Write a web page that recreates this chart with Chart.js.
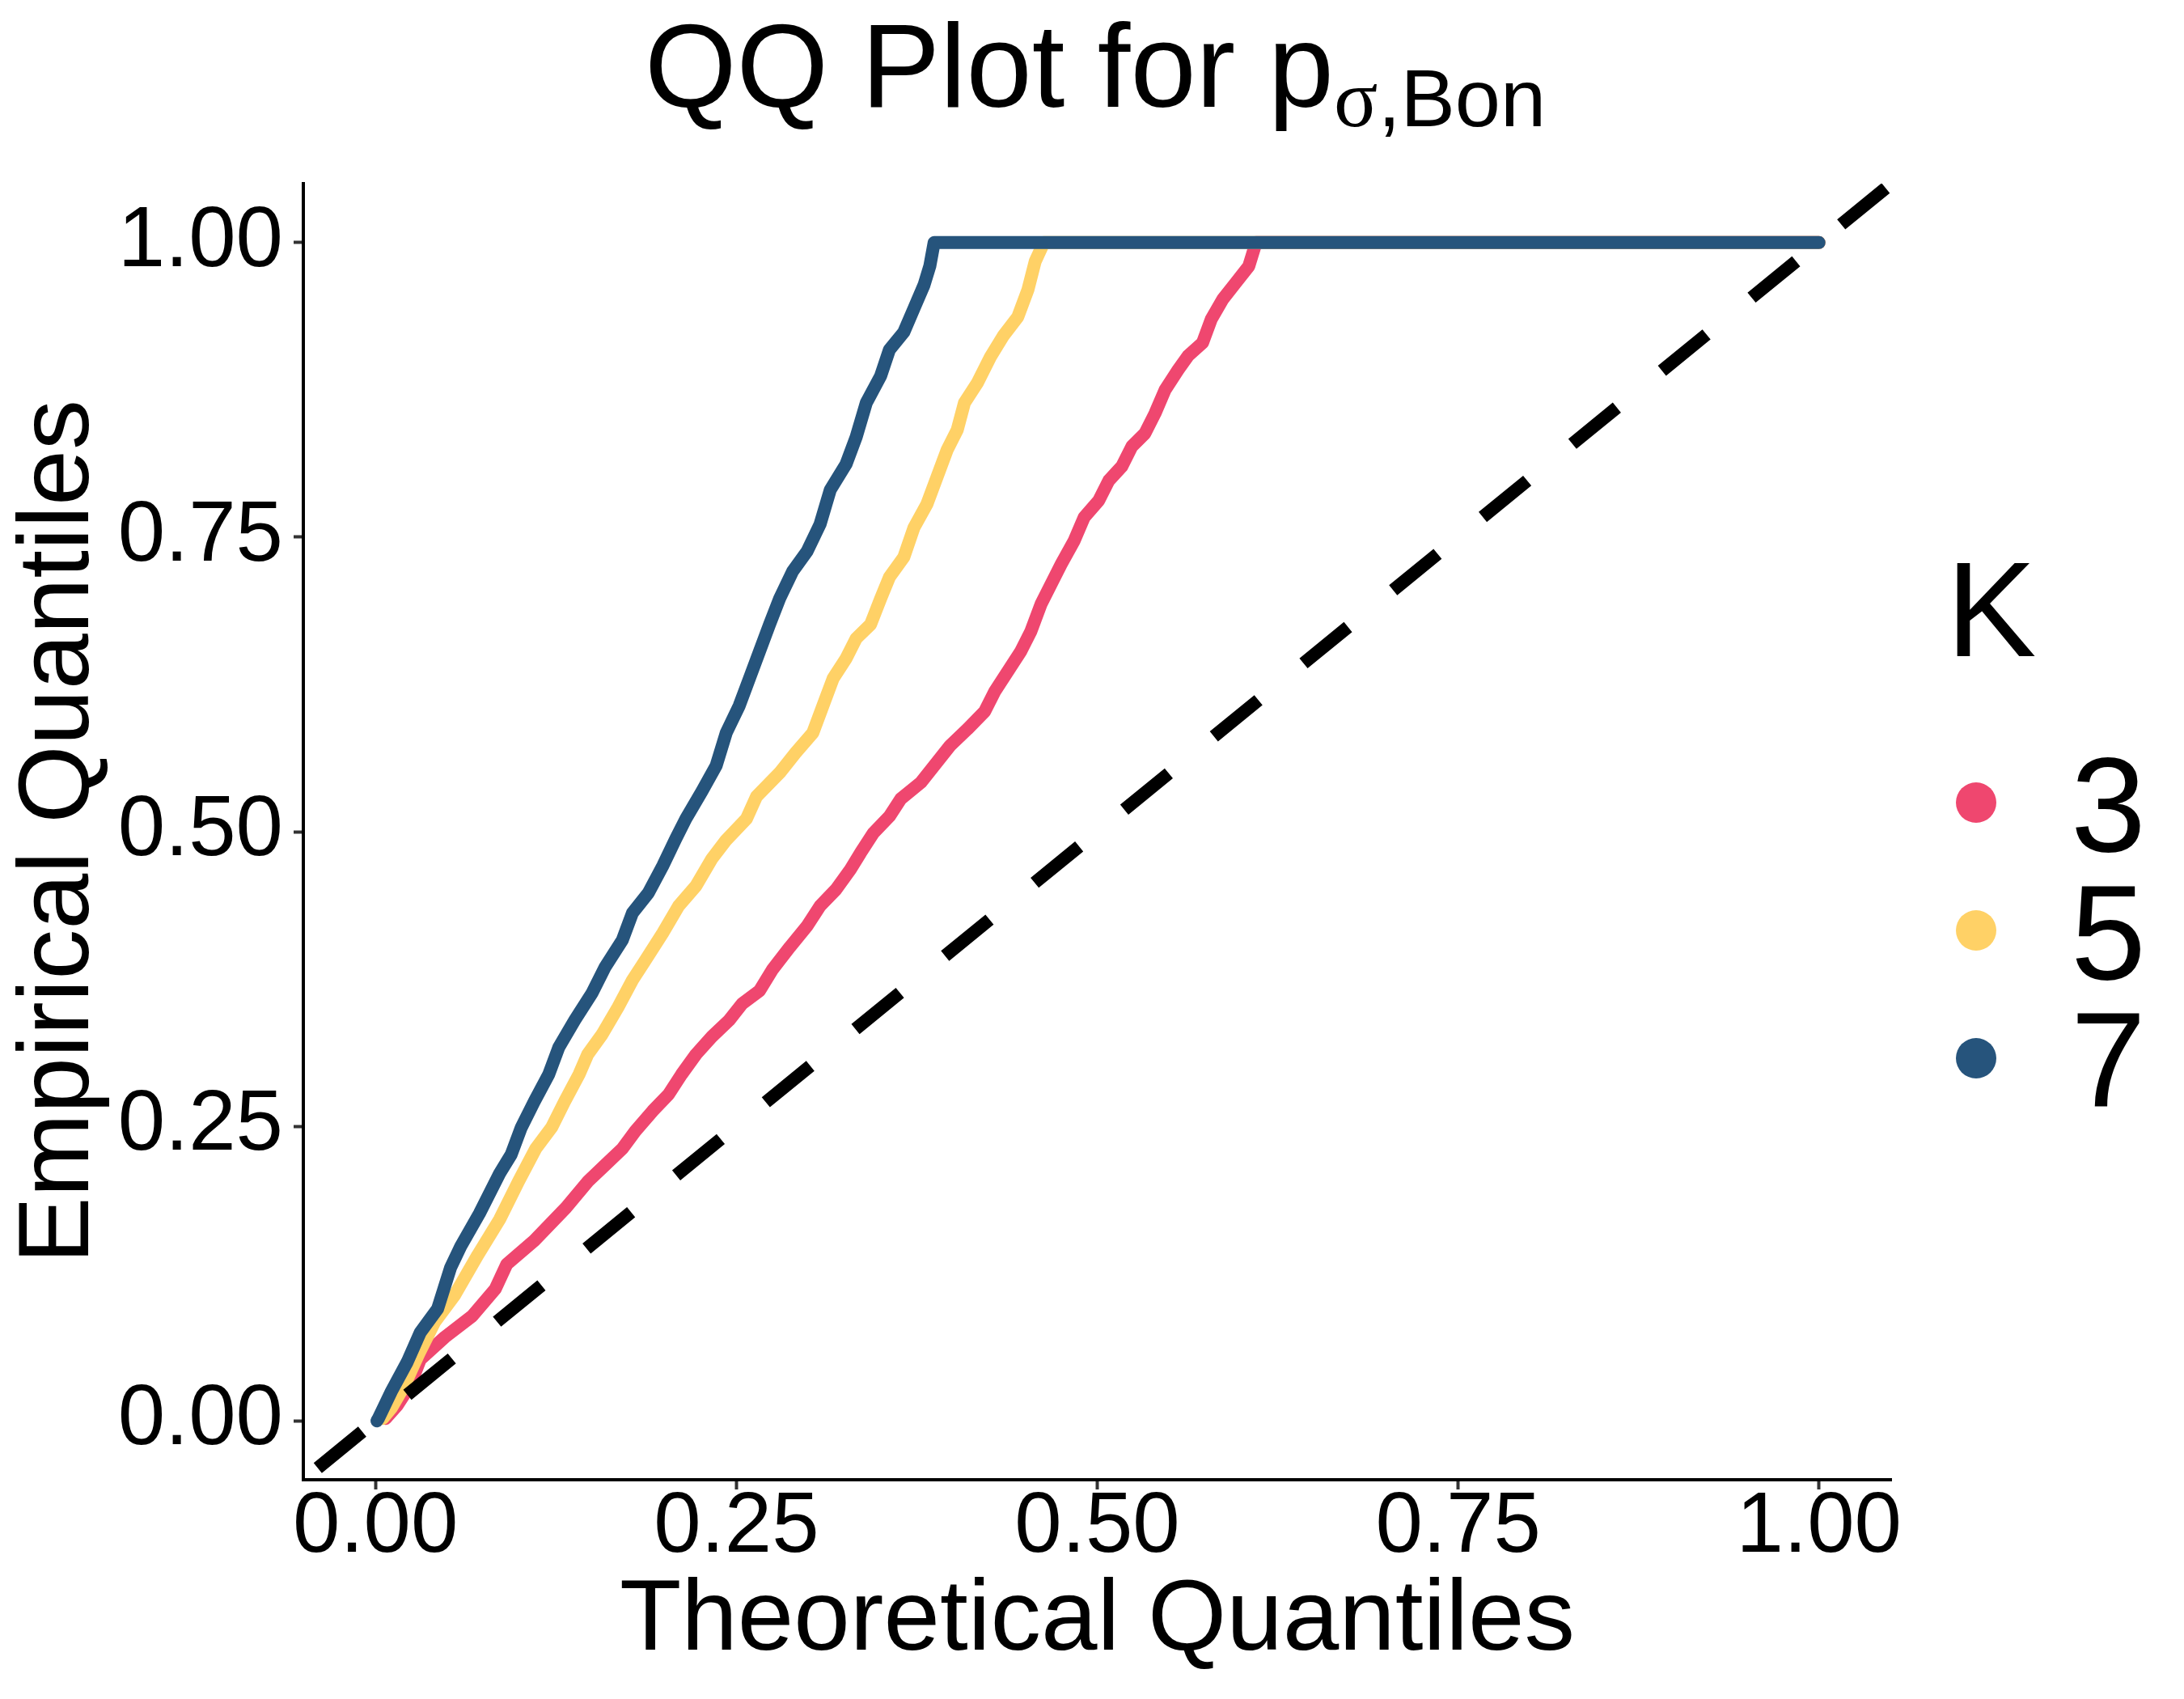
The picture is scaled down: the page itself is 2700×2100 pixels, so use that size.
<!DOCTYPE html>
<html>
<head>
<meta charset="utf-8">
<script src="https://cdn.jsdelivr.net/npm/chart.js"></script>
<title>QQ Plot</title>
<style>
  body { margin: 0; background: #fff; }
  canvas { display: block; }
</style>
</head>
<body>
<canvas id="myChart" width="2700" height="2100"></canvas>
<script>
// values
const groups = ['3', '5', '7'];
const xTicks = [0, 0.25, 0.5, 0.75, 1];
const yTicks = [0, 0.25, 0.5, 0.75, 1];
const refLine = [-0.05, 1.05];

const k3Theo = [0.007, 0.015, 0.024, 0.031, 0.048, 0.067, 0.083, 0.091, 0.110, 0.132, 0.147, 0.159, 0.171, 0.180,
  0.192, 0.203, 0.212, 0.222, 0.233, 0.245, 0.254, 0.266, 0.275, 0.287, 0.299, 0.308, 0.319, 0.329, 0.336, 0.345,
  0.356, 0.364, 0.378, 0.389, 0.398, 0.410, 0.422, 0.429, 0.438, 0.447, 0.454, 0.461, 0.468, 0.475, 0.484, 0.491,
  0.501, 0.508, 0.517, 0.524, 0.533, 0.540, 0.547, 0.556, 0.563, 0.573, 0.579, 0.587, 0.596, 0.605, 0.610, 1.000];
const k3Emp = [0.002, 0.013, 0.030, 0.052, 0.071, 0.089, 0.112, 0.133, 0.153, 0.181, 0.203, 0.217, 0.231, 0.246,
  0.263, 0.277, 0.294, 0.311, 0.326, 0.340, 0.354, 0.365, 0.383, 0.402, 0.420, 0.437, 0.451, 0.468, 0.482, 0.499,
  0.513, 0.528, 0.542, 0.559, 0.573, 0.587, 0.602, 0.619, 0.636, 0.653, 0.670, 0.693, 0.710, 0.727, 0.747, 0.767,
  0.781, 0.798, 0.810, 0.827, 0.838, 0.855, 0.875, 0.892, 0.904, 0.915, 0.935, 0.952, 0.966, 0.980, 1.000, 1.000];

const k5Theo = [0.005, 0.011, 0.020, 0.030, 0.041, 0.055, 0.071, 0.086, 0.099, 0.111, 0.122, 0.131, 0.141, 0.147,
  0.157, 0.168, 0.178, 0.187, 0.199, 0.210, 0.222, 0.233, 0.243, 0.257, 0.264, 0.280, 0.291, 0.303, 0.310, 0.317,
  0.326, 0.333, 0.343, 0.350, 0.356, 0.366, 0.373, 0.382, 0.389, 0.396, 0.403, 0.408, 0.417, 0.426, 0.435, 0.445,
  0.452, 0.457, 0.463, 1.000];
const k5Emp = [0.002, 0.011, 0.030, 0.057, 0.084, 0.107, 0.141, 0.171, 0.203, 0.231, 0.249, 0.271, 0.294, 0.311,
  0.328, 0.351, 0.374, 0.391, 0.414, 0.437, 0.454, 0.477, 0.493, 0.511, 0.530, 0.550, 0.567, 0.584, 0.607, 0.630,
  0.647, 0.664, 0.676, 0.698, 0.716, 0.733, 0.758, 0.778, 0.801, 0.824, 0.841, 0.864, 0.881, 0.903, 0.921, 0.937,
  0.960, 0.984, 1.000, 1.000];

const k7Theo = [0.001, 0.002, 0.011, 0.022, 0.031, 0.043, 0.052, 0.059, 0.072, 0.086, 0.094, 0.101, 0.110, 0.120,
  0.127, 0.138, 0.150, 0.159, 0.171, 0.178, 0.189, 0.199, 0.208, 0.215, 0.226, 0.236, 0.243, 0.252, 0.259, 0.266,
  0.273, 0.280, 0.289, 0.299, 0.308, 0.315, 0.326, 0.333, 0.340, 0.350, 0.356, 0.366, 0.373, 0.380, 0.384, 0.387,
  1.000];
const k7Emp = [0.000, 0.002, 0.025, 0.050, 0.075, 0.095, 0.130, 0.148, 0.176, 0.210, 0.226, 0.249, 0.271, 0.294,
  0.317, 0.340, 0.363, 0.385, 0.408, 0.431, 0.448, 0.471, 0.494, 0.511, 0.534, 0.556, 0.584, 0.607, 0.630, 0.653,
  0.676, 0.698, 0.721, 0.738, 0.761, 0.790, 0.812, 0.835, 0.864, 0.887, 0.909, 0.924, 0.944, 0.964, 0.980, 1.000,
  1.000];

const colors = ['#EF476F', '#FFD166', '#26547C'];
const FONT = '"Liberation Sans", Arial, Helvetica, sans-serif';

const toPoints = (xs, ys) => xs.map((x, i) => ({x: x, y: ys[i]}));

const curve = (label, xs, ys, color, order) => ({
  label: label,
  data: toPoints(xs, ys),
  showLine: true,
  borderColor: color,
  backgroundColor: color,
  borderWidth: 16,
  borderCapStyle: 'round',
  borderJoinStyle: 'round',
  pointRadius: 0,
  pointHoverRadius: 0,
  order: order
});

// title with subscript, and the K legend on the right
const decorations = {
  id: 'decorations',
  afterDraw(chart) {
    const ctx = chart.ctx;
    ctx.save();
    ctx.fillStyle = '#000';
    ctx.textBaseline = 'alphabetic';
    ctx.textAlign = 'left';

    const main = 'QQ Plot for p';
    let x = 797;
    ctx.font = '146px ' + FONT;
    ctx.fillText(main, x, 132);
    x += ctx.measureText(main).width;
    ctx.font = '101px "Liberation Serif", "DejaVu Serif", serif';
    ctx.fillText('σ', x, 156);
    x += ctx.measureText('σ').width;
    ctx.font = '101px ' + FONT;
    ctx.fillText(',Bon', x, 156);

    // legend
    ctx.font = '167px ' + FONT;
    ctx.fillText('K', 2406, 811);
    groups.forEach((g, i) => {
      const cy = 992 + i * 158;
      ctx.beginPath();
      ctx.arc(2443, cy, 25, 0, Math.PI * 2);
      ctx.fillStyle = colors[i];
      ctx.fill();
      ctx.fillStyle = '#000';
      ctx.fillText(g, 2560, cy + 60);
    });
    ctx.restore();
  }
};

const data = {
  datasets: [
    {
      label: 'reference',
      data: refLine.map(v => ({x: v, y: v})),
      showLine: true,
      borderColor: '#000',
      borderWidth: 16,
      borderDash: [71, 72],
      borderDashOffset: 120,
      borderCapStyle: 'butt',
      pointRadius: 0,
      pointHoverRadius: 0,
      order: 0
    },
    curve(groups[2], k7Theo, k7Emp, colors[2], 1),
    curve(groups[1], k5Theo, k5Emp, colors[1], 2),
    curve(groups[0], k3Theo, k3Emp, colors[0], 3)
  ]
};

const axisCommon = {
  type: 'linear',
  min: -0.05,
  max: 1.05,
  grid: {drawOnChartArea: false, drawTicks: true, tickLength: 12, tickWidth: 4, tickColor: '#333'},
  border: {display: true, color: '#000', width: 4}
};

const config = {
  type: 'scatter',
  data: data,
  options: {
    responsive: false,
    animation: false,
    devicePixelRatio: 1,
    layout: {padding: {top: 227, right: 362, left: 0, bottom: 0}},
    plugins: {
      legend: {display: false},
      title: {display: false},
      tooltip: {enabled: false}
    },
    scales: {
      x: Object.assign({}, axisCommon, {
        position: 'bottom',
        afterBuildTicks: s => { s.ticks = xTicks.map(v => ({value: v})); },
        afterFit: s => { s.height = 271; },
        ticks: {
          callback: v => v.toFixed(2),
          font: {family: FONT, size: 105, lineHeight: 1},
          color: '#000',
          padding: -4,
          maxRotation: 0,
          autoSkip: false
        },
        title: {
          display: true,
          text: 'Theoretical Quantiles',
          color: '#000',
          font: {family: FONT, size: 125, lineHeight: 1.2},
          padding: {top: 0, bottom: 20}
        }
      }),
      y: Object.assign({}, axisCommon, {
        position: 'left',
        afterBuildTicks: s => { s.ticks = yTicks.map(v => ({value: v})); },
        afterFit: s => { s.width = 375; },
        ticks: {
          callback: v => v.toFixed(2),
          font: {family: FONT, size: 105, lineHeight: 1},
          color: '#000',
          padding: 13,
          autoSkip: false
        },
        title: {
          display: true,
          text: 'Empirical Quantiles',
          color: '#000',
          font: {family: FONT, size: 124, lineHeight: 1.2},
          padding: {top: 0, bottom: 0}
        }
      })
    }
  },
  plugins: [decorations]
};

const myChart = new Chart(document.getElementById('myChart'), config);
</script>
</body>
</html>
